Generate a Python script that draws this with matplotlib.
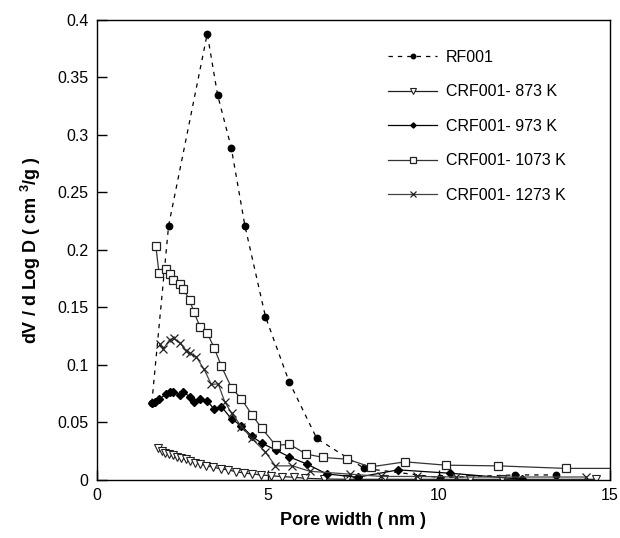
import matplotlib
matplotlib.use("Agg")
import matplotlib.pyplot as plt

plt.rcParams['font.family'] = ['Liberation Sans', 'DejaVu Sans']
plt.rcParams['mathtext.fontset'] = 'custom'
plt.rcParams['mathtext.rm'] = 'Liberation Sans'
plt.rcParams['mathtext.bf'] = 'Liberation Sans:bold'

# RF001
rf_x = [1.61, 2.10, 3.23, 3.53, 3.93, 4.33, 4.93, 5.62, 6.43, 7.82, 10.03, 12.22, 13.41]
rf_y = [0.067, 0.221, 0.388, 0.335, 0.289, 0.221, 0.142, 0.0855, 0.036, 0.010, 0.002, 0.0043, 0.0043]

# CRF001-873 K
c873_x = [1.80, 1.90, 2.00, 2.12, 2.23, 2.35, 2.45, 2.60, 2.72, 2.86, 3.02, 3.20, 3.40, 3.62, 3.84, 4.06,
          4.30, 4.55, 4.80, 5.10, 5.40, 5.75, 6.10, 6.65, 7.30, 8.40, 9.40, 10.9, 11.83, 14.6]
c873_y = [0.0275, 0.0255, 0.0238, 0.0226, 0.0214, 0.0203, 0.0188, 0.0178, 0.0168, 0.0151, 0.0139, 0.0125,
          0.0110, 0.0097, 0.0087, 0.0072, 0.0060, 0.0052, 0.0043, 0.0036, 0.0029, 0.0023, 0.0014, 0.0008,
          0.0005, 0.0005, 0.0005, 0.0005, 0.0005, 0.0005]

# CRF001-973 K
c973_x = [1.61, 1.70, 1.82, 2.02, 2.13, 2.23, 2.43, 2.52, 2.72, 2.84, 3.02, 3.23, 3.43, 3.64, 3.94, 4.23,
          4.53, 4.82, 5.23, 5.63, 6.13, 6.72, 7.62, 8.81, 10.32, 12.42]
c973_y = [0.067, 0.068, 0.070, 0.0745, 0.0765, 0.0768, 0.074, 0.0763, 0.0725, 0.068, 0.0707, 0.0687,
          0.0615, 0.0638, 0.053, 0.047, 0.038, 0.032, 0.026, 0.020, 0.0139, 0.0052, 0.0023, 0.0087, 0.0058,
          0.0006]

# CRF001-1073 K
c1073_x = [1.725, 1.82, 2.02, 2.13, 2.23, 2.43, 2.53, 2.72, 2.84, 3.02, 3.23, 3.43, 3.64, 3.94, 4.23,
           4.53, 4.82, 5.23, 5.63, 6.12, 6.62, 7.32, 8.0, 9.01, 10.2, 11.73, 13.7, 15.6]
c1073_y = [0.2037, 0.180, 0.183, 0.179, 0.174, 0.170, 0.166, 0.156, 0.146, 0.133, 0.1275, 0.115, 0.099,
           0.080, 0.0704, 0.0568, 0.045, 0.030, 0.031, 0.0225, 0.0195, 0.018, 0.0113, 0.0157, 0.0128,
           0.0122, 0.0100, 0.0100]

# CRF001-1273 K
c1273_x = [1.84, 1.95, 2.13, 2.25, 2.43, 2.62, 2.72, 2.91, 3.14, 3.35, 3.55, 3.74, 3.94, 4.23, 4.53,
           4.92, 5.22, 5.72, 6.23, 7.40, 8.32, 9.35, 10.5, 14.3]
c1273_y = [0.118, 0.114, 0.122, 0.123, 0.119, 0.1125, 0.110, 0.107, 0.096, 0.083, 0.0835, 0.068, 0.058,
           0.0464, 0.036, 0.0246, 0.0122, 0.0122, 0.0075, 0.005, 0.003, 0.003, 0.0025, 0.0025]

fig = plt.figure(figsize=(6.2, 5.38), dpi=100)
ax = fig.add_axes([0.156, 0.108, 0.828, 0.855])

ax.plot(rf_x, rf_y, linestyle=(0, (3.5, 4)), color='black', lw=0.9, marker='o', ms=4.6,
        mfc='black', mec='black', label='RF001')
ax.plot(c873_x, c873_y, linestyle='-', color='#222222', lw=0.9, marker='v', ms=5.2,
        mfc='white', mec='#222222', mew=0.8, label='CRF001- 873 K')
ax.plot(c973_x, c973_y, linestyle='-', color='black', lw=0.9, marker='D', ms=3.8,
        mfc='black', mec='black', label='CRF001- 973 K')
ax.plot(c1073_x, c1073_y, linestyle='-', color='#333333', lw=0.9, marker='s', ms=5.4,
        mfc='white', mec='#222222', mew=0.9, label='CRF001- 1073 K')
ax.plot(c1273_x, c1273_y, linestyle='-', color='#444444', lw=0.9, marker='x', ms=5.8,
        mec='#222222', mew=0.9, label='CRF001- 1273 K')

ax.set_xlim(0, 15)
ax.set_ylim(0, 0.4)
ax.set_xticks([0, 5, 10, 15])
ax.set_yticks([0, 0.05, 0.1, 0.15, 0.2, 0.25, 0.3, 0.35, 0.4])
ax.set_yticklabels(['0', '0.05', '0.1', '0.15', '0.2', '0.25', '0.3', '0.35', '0.4'])
ax.tick_params(direction='in', length=7, width=1, labelsize=11.5, pad=6)
for s in ax.spines.values():
    s.set_linewidth(1.0)

ax.set_xlabel('Pore width ( nm )', fontsize=13, fontweight='bold', labelpad=6)
ax.set_ylabel(r'dV / d Log D ( cm $^{\mathbf{3}}$/g )', fontsize=13, fontweight='bold', labelpad=10)

leg = ax.legend(loc='upper left', bbox_to_anchor=(0.567, 0.935), frameon=False, fontsize=11.5,
                handlelength=3.1, markerscale=0.7, labelspacing=1.22, handletextpad=0.55,
                borderpad=0, borderaxespad=0)

fig.savefig('out.png', dpi=100)
